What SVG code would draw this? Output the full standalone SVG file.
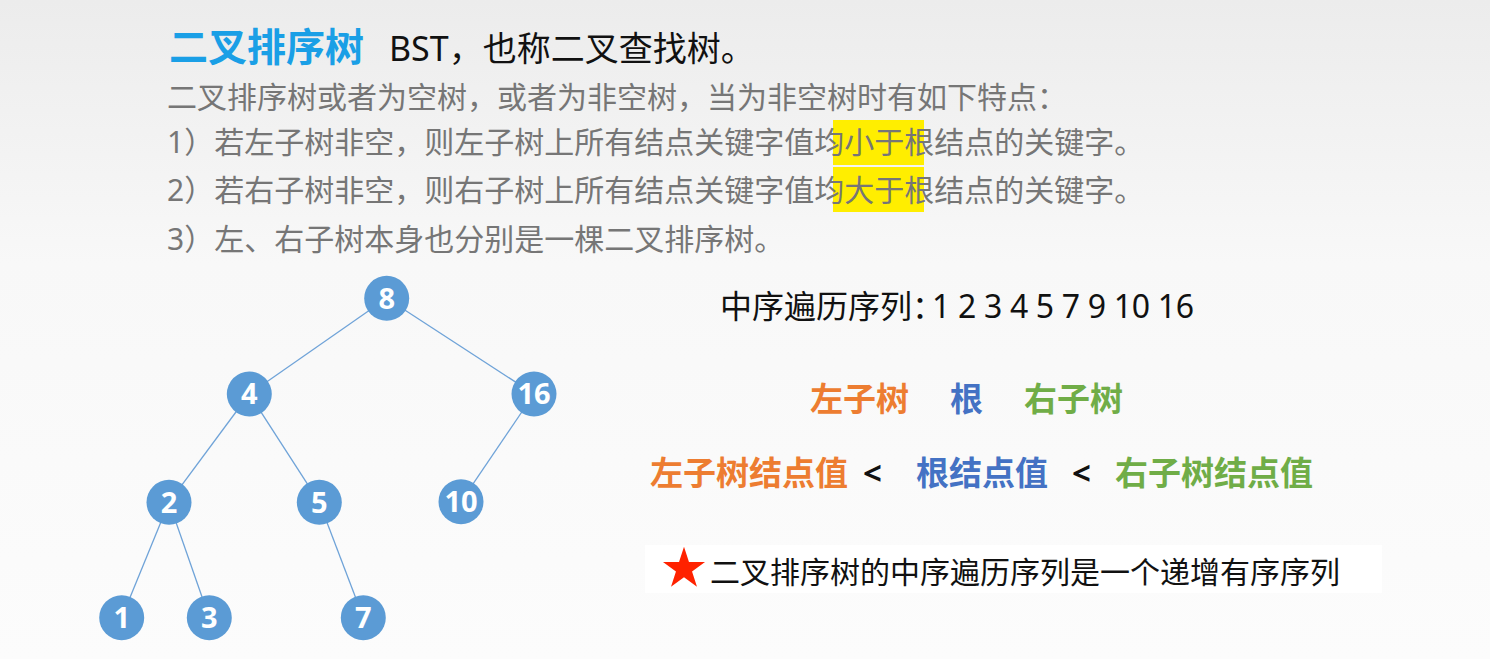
<svg xmlns="http://www.w3.org/2000/svg" width="1490" height="659" viewBox="0 0 1490 659">
<defs>
<linearGradient id="bg" x1="0" y1="0" x2="0" y2="1">
<stop offset="0" stop-color="#ececec"/>
<stop offset="0.4" stop-color="#f8f8f8"/>
<stop offset="1" stop-color="#fcfcfc"/>
</linearGradient>
<style>
text{font-family:"Noto Sans","Noto Sans CJK SC",sans-serif;}
.gray{font-size:30px;fill:#767676;}
.node circle{fill:#5b9bd5;}
.node text{font-size:29px;font-weight:700;fill:#ffffff;text-anchor:middle;}
.edge{stroke:#6fa3d8;stroke-width:1.3;fill:none;}
.b33{font-size:33px;font-weight:700;}
.or{fill:#ed7d31;}
.bl{fill:#4472c4;}
.gr{fill:#70ad47;}
.bk{fill:#111111;}
</style>
</defs>
<rect x="0" y="0" width="1490" height="659" fill="url(#bg)"/>

<g id="header">
<text x="169" y="61" style="font-size:39px;font-weight:700;fill:#1a9fe6">二叉排序树</text>
<text x="389" y="61" style="font-size:34px;fill:#111111">BST，也称二叉查找树。</text>
</g>

<g id="highlights">
<rect x="833" y="120" width="91" height="45" fill="#ffee00"/>
<rect x="833" y="167" width="91" height="45" fill="#ffee00"/>
</g>

<g id="rules">
<text class="gray" x="167" y="108">二叉排序树或者为空树，或者为非空树，当为非空树时有如下特点：</text>
<text class="gray" x="167" y="153">1）若左子树非空，则左子树上所有结点关键字值均小于根结点的关键字。</text>
<text class="gray" x="167" y="201">2）若右子树非空，则右子树上所有结点关键字值均大于根结点的关键字。</text>
<text class="gray" x="167" y="250">3）左、右子树本身也分别是一棵二叉排序树。</text>
</g>

<g id="connectors">
<line class="edge" x1="386.7" y1="298.3" x2="249.3" y2="394"/>
<line class="edge" x1="386.7" y1="298.3" x2="534" y2="394"/>
<line class="edge" x1="249.3" y1="394" x2="169" y2="502.3"/>
<line class="edge" x1="249.3" y1="394" x2="319.3" y2="502.3"/>
<line class="edge" x1="534" y1="394" x2="461" y2="501.7"/>
<line class="edge" x1="169" y1="502.3" x2="121.7" y2="617.7"/>
<line class="edge" x1="169" y1="502.3" x2="209.3" y2="617.7"/>
<line class="edge" x1="319.3" y1="502.3" x2="363.3" y2="617.7"/>
</g>

<g id="node-8" class="node"><circle cx="386.7" cy="298.3" r="22.5"/><text x="386.7" y="308.6">8</text></g>
<g id="node-4" class="node"><circle cx="249.3" cy="394" r="22.5"/><text x="249.3" y="404.3">4</text></g>
<g id="node-16" class="node"><circle cx="534" cy="394" r="22.5"/><text x="534" y="404.3">16</text></g>
<g id="node-2" class="node"><circle cx="169" cy="502.3" r="22.5"/><text x="169" y="512.6">2</text></g>
<g id="node-5" class="node"><circle cx="319.3" cy="502.3" r="22.5"/><text x="319.3" y="512.6">5</text></g>
<g id="node-10" class="node"><circle cx="461" cy="501.7" r="22.5"/><text x="461" y="512">10</text></g>
<g id="node-1" class="node"><circle cx="121.7" cy="617.7" r="22.5"/><text x="121.7" y="628">1</text></g>
<g id="node-3" class="node"><circle cx="209.3" cy="617.7" r="22.5"/><text x="209.3" y="628">3</text></g>
<g id="node-7" class="node"><circle cx="363.3" cy="617.7" r="22.5"/><text x="363.3" y="628">7</text></g>

<g id="inorder">
<text x="720" y="318" style="font-size:32px;fill:#111111">中序遍历序列：<tspan x="932" style="font-size:32px" textLength="262" lengthAdjust="spacing">1 2 3 4 5 7 9 10 16</tspan></text>
</g>

<g id="parts">
<text class="b33" y="411"><tspan class="or" x="810">左子树</tspan><tspan class="bl" x="950">根</tspan><tspan class="gr" x="1024">右子树</tspan></text>
</g>

<g id="compare">
<text class="b33" y="485"><tspan class="or" x="650">左子树结点值</tspan><tspan class="bk" x="863">&lt;</tspan><tspan class="bl" x="916">根结点值</tspan><tspan class="bk" x="1072">&lt;</tspan><tspan class="gr" x="1115">右子树结点值</tspan></text>
</g>

<g id="conclusion">
<rect x="645" y="545" width="737" height="48" fill="#ffffff"/>
<polygon fill="#ff2200" points="684,546.7 688.97,561.96 705.02,561.97 692.04,571.41 696.99,586.68 684,577.25 671.01,586.68 675.96,571.41 662.98,561.97 679.03,561.96"/>
<text x="710" y="583" style="font-size:30px;fill:#111111">二叉排序树的中序遍历序列是一个递增有序序列</text>
</g>
</svg>
